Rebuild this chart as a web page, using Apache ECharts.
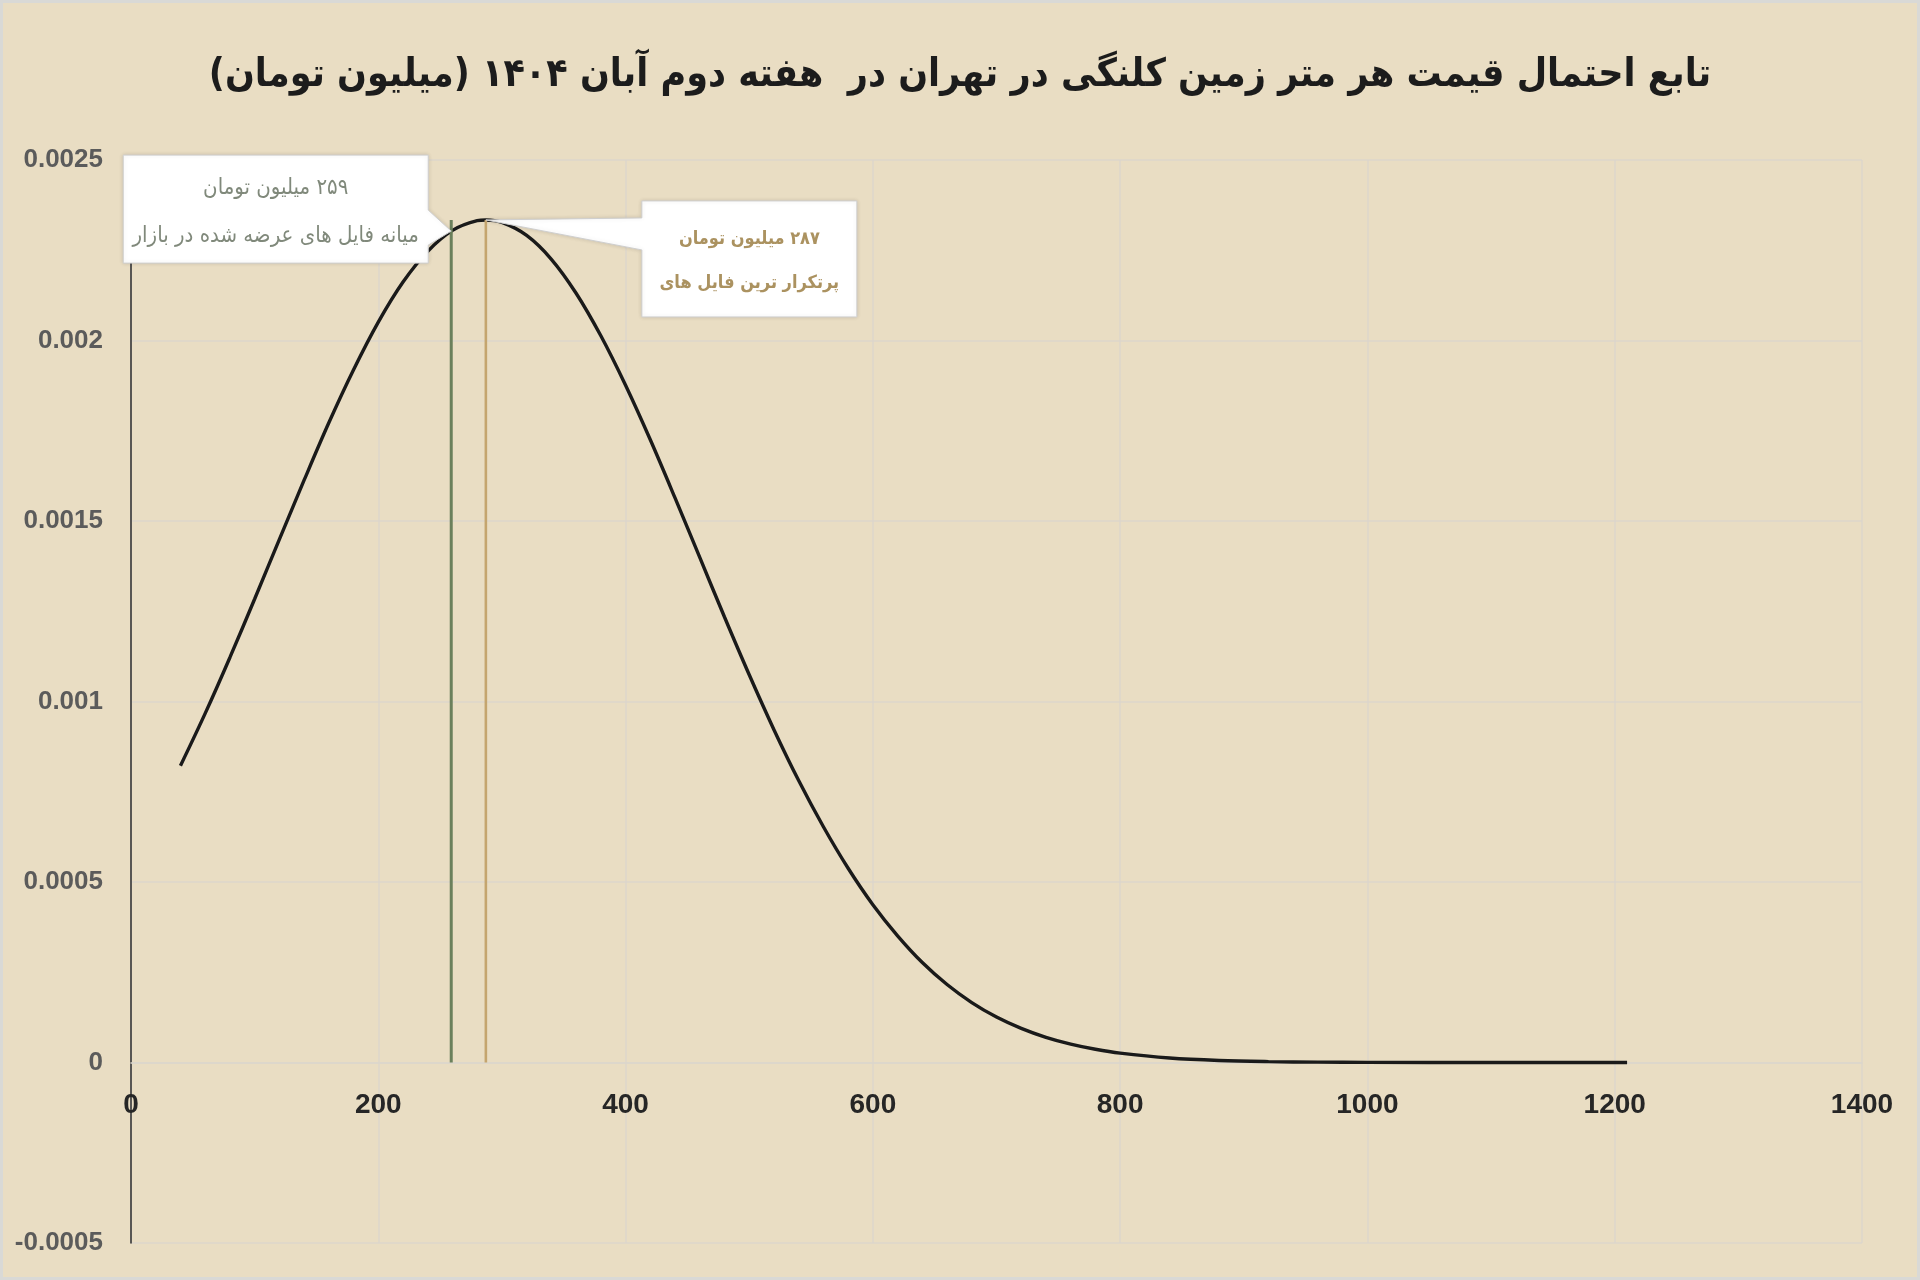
<!DOCTYPE html>
<html>
<head>
<meta charset="utf-8">
<style>
  html, body { margin: 0; padding: 0; background: #e9ddc3; }
  #chart { width: 1920px; height: 1280px; }
</style>
<script src="https://cdn.jsdelivr.net/npm/echarts@6/dist/echarts.min.js"></script>
</head>
<body>
<div id="chart"></div>
<script>
// ---- data ----
const titleText = 'تابع احتمال قیمت هر متر زمین کلنگی در تهران در  هفته دوم آبان ۱۴۰۴ (میلیون تومان)';

const xValues = [40,60,80,100,120,140,160,180,200,220,240,260,280,287,
  300,320,340,360,380,400,420,440,460,480,500,520,540,560,580,600,620,640,660,680,700,720,740,760,780,800,
  840,880,920,960,1000,1100,1210];
const density = [0.000822,0.000967,0.001122,0.001284,0.001449,0.001613,0.001772,0.001919,0.002051,0.002162,0.002247,0.002305,0.002332,0.002334,
  0.002327,0.002291,0.002225,0.002131,0.002013,0.001876,0.001725,0.001564,0.001399,0.001234,0.001074,0.000922,0.000781,0.000653,0.000538,0.000437,0.000351,0.000277,0.000216,0.000166,0.000126,0.0000946,0.0000698,0.0000509,0.0000366,0.0000259,
  0.0000125,0.0000057,0.0000025,0.000001,0.0000004,0.00000002,0];

// vertical reference lines (median, mode)
const refLineX = [259, 287];
const refLineTop = [0.002334, 0.002334];

// callouts: anchor on the curve + two text lines
const calloutX = [259, 287];
const calloutY = [0.002303, 0.002334];
const calloutLine1 = ['۲۵۹ میلیون تومان', '۲۸۷ میلیون تومان'];
const calloutLine2 = ['میانه فایل های عرضه شده در بازار', 'پرتکرار ترین فایل های'];

const xTicks = [0, 200, 400, 600, 800, 1000, 1200, 1400];
const yTicks = [-0.0005, 0, 0.0005, 0.001, 0.0015, 0.002, 0.0025];

// ---- styles ----
const RLM = '\u200F';
const rtl = s => RLM + s + RLM;
const gridColor = '#dcd6cb';
const faFont = '"DejaVu Sans Condensed", "DejaVu Sans", sans-serif';
const numFont = '"Liberation Sans", Arial, sans-serif';

// pixel geometry of the callout boxes relative to their anchor (style only)
const boxGeom = [
  { L: -328, R: -23, T: -76, B: 32, wedgeSide: 'right', w1: -21, w2: 14, t1: -43, t2: 5,
    color: '#80897b', weight: 'normal', size: 22 },
  { L: 156, R: 371, T: -19, B: 97, wedgeSide: 'left', w1: -2, w2: 30, t1: 19, t2: 63,
    color: '#ab9260', weight: 'bold', size: 18 }
];

const chart = echarts.init(document.getElementById('chart'), null, { renderer: 'canvas' });

const curveData = xValues.map((x, i) => [x, density[i]]);
const calloutData = calloutX.map((x, i) => [x, calloutY[i], i]);

const option = {
  backgroundColor: '#e9ddc3',
  animation: false,
  title: {
    text: rtl(titleText),
    left: 'center',
    top: 51,
    textStyle: {
      fontFamily: faFont,
      fontWeight: 'bold',
      fontSize: 39,
      color: '#1c1c1c'
    }
  },
  graphic: [{
    type: 'rect',
    shape: { x: 1.5, y: 1.5, width: 1917, height: 1277 },
    style: { fill: null, stroke: '#d9d9d6', lineWidth: 3 },
    silent: true,
    z: 100
  }],
  grid: { left: 131, right: 58, top: 160, bottom: 37, containLabel: false, outerBoundsMode: 'none' },
  xAxis: {
    type: 'value',
    min: 0, max: 1400, interval: 200,
    offset: -180.5,
    axisLine: { show: true, onZero: false, lineStyle: { color: gridColor, width: 1.5 } },
    axisTick: { show: false },
    splitLine: { show: true, lineStyle: { color: gridColor, width: 1.5 } },
    axisLabel: {
      margin: 29,
      fontFamily: numFont,
      fontWeight: 'bold',
      fontSize: 28,
      color: '#262626',
      formatter: v => String(xTicks.find(t => Math.abs(t - v) < 1e-6) ?? v)
    }
  },
  yAxis: {
    type: 'value',
    min: -0.0005, max: 0.0025, interval: 0.0005,
    axisLine: { show: true, onZero: false, lineStyle: { color: '#2b2b2b', width: 1.5 } },
    axisTick: { show: false },
    splitLine: { show: true, lineStyle: { color: gridColor, width: 1.5 } },
    axisLabel: {
      margin: 28,
      fontFamily: numFont,
      fontWeight: 'bold',
      fontSize: 26,
      color: '#5b5b5b',
      formatter: v => {
        const r = Math.round(v * 1e6) / 1e6;
        const hit = yTicks.find(t => Math.abs(t - r) < 1e-9);
        return String(hit !== undefined ? hit : r);
      }
    }
  },
  series: [
    {
      name: 'density',
      type: 'line',
      data: curveData,
      smooth: 0.35,
      symbol: 'none',
      lineStyle: { color: '#1a1a1a', width: 3.4 },
      z: 2
    },
    {
      name: 'median',
      type: 'line',
      data: [[refLineX[0], 0], [refLineX[0], refLineTop[0]]],
      symbol: 'none',
      lineStyle: { color: '#6b805c', width: 3 },
      z: 3
    },
    {
      name: 'mode',
      type: 'line',
      data: [[refLineX[1], 0], [refLineX[1], refLineTop[1]]],
      symbol: 'none',
      lineStyle: { color: '#c4a56e', width: 2.6 },
      z: 3
    },
    {
      name: 'callouts',
      type: 'custom',
      coordinateSystem: 'cartesian2d',
      clip: false,
      z: 10,
      data: calloutData,
      renderItem: (params, api) => {
        const idx = api.value(2);
        const p = api.coord([api.value(0), api.value(1)]);
        const g = boxGeom[idx];
        const ax = p[0], ay = p[1];
        let pts;
        if (g.wedgeSide === 'right') {
          pts = [[g.L, g.T], [g.R, g.T], [g.R, g.w1], [0, 0], [g.R, g.w2], [g.R, g.B], [g.L, g.B]];
        } else {
          pts = [[g.L, g.T], [g.R, g.T], [g.R, g.B], [g.L, g.B], [g.L, g.w2], [0, 0], [g.L, g.w1]];
        }
        pts = pts.map(q => [ax + q[0], ay + q[1]]);
        const cx = ax + (g.L + g.R) / 2;
        const mk = (txt, dy) => ({
          type: 'text',
          style: {
            text: rtl(txt),
            x: cx, y: ay + dy,
            fill: g.color,
            fontFamily: faFont,
            fontSize: g.size,
            fontWeight: g.weight,
            align: 'center',
            verticalAlign: 'middle'
          }
        });
        return {
          type: 'group',
          children: [
            {
              type: 'polygon',
              shape: { points: pts },
              style: {
                fill: '#ffffff',
                stroke: '#cfcfcf',
                lineWidth: 1,
                shadowBlur: 4,
                shadowColor: 'rgba(0,0,0,0.12)'
              }
            },
            mk(calloutLine1[idx], g.t1),
            mk(calloutLine2[idx], g.t2)
          ]
        };
      }
    }
  ]
};

chart.setOption(option);
</script>
</body>
</html>
